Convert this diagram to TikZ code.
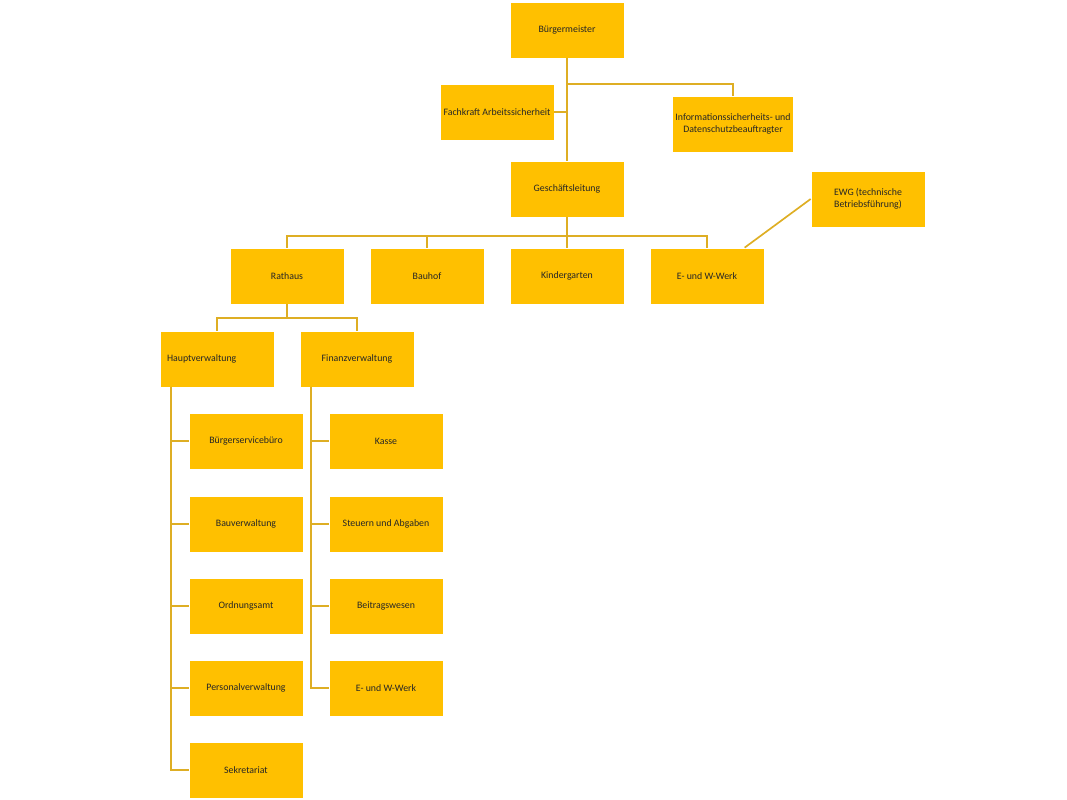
\documentclass[tikz,border=0pt]{standalone}
\usepackage{fontspec}
\setmainfont{Carlito}
\usepackage{xcolor}
\usetikzlibrary{positioning}

\definecolor{boxgold}{RGB}{255,192,0}
\definecolor{linegold}{RGB}{222,174,36}

\begin{document}
\begin{tikzpicture}[
  x=0.025cm, y=-0.025cm,
  font=\fontsize{7}{8.4}\selectfont,
  unit/.style={
    draw=white,
    fill=boxgold,
    line width=0.5pt,
    minimum width=2.85cm,
    minimum height=1.4cm,
    align=center,
    inner sep=2pt,
    text=black!85
  },
  link/.style={
    draw=linegold,
    line width=1.2pt
  }
]

\useasboundingbox (0,0) rectangle (1067,800);

% -------------------------------------------------------------------
% Leitung
% -------------------------------------------------------------------
\node[unit] (bgm) at (567,30) {Bürgermeister};
\node[unit] (fas) at (497,112) {Fachkraft Arbeitssicherheit};
\node[unit] (isb) at (733,124) {Informationssicherheits- und\\Datenschutzbeauftragter};
\node[unit] (gl) at (567,189) {Geschäftsleitung};
\node[unit] (ewg) at (868,199) {EWG (technische\\Betriebsführung)};

% -------------------------------------------------------------------
% Bereiche
% -------------------------------------------------------------------
\node[unit] (rat) at (287,276) {Rathaus};
\node[unit] (bau) at (427,276) {Bauhof};
\node[unit] (kig) at (567,276) {Kindergarten};
\node[unit] (ewerk) at (707,276) {E- und W-Werk};

% -------------------------------------------------------------------
% Rathaus
% -------------------------------------------------------------------
\node[unit, align=left, inner xsep=5pt, text width=2.85cm-10pt] (hv) at (217,359) {Hauptverwaltung};
\node[unit] (fv) at (357,359) {Finanzverwaltung};

\node[unit] (bsb) at (246,441) {Bürgerservicebüro};
\node[unit] (bvw) at (246,524) {Bauverwaltung};
\node[unit] (oa) at (246,606) {Ordnungsamt};
\node[unit] (pv) at (246,688) {Personalverwaltung};
\node[unit] (sek) at (246,770) {Sekretariat};

\node[unit] (kas) at (386,441) {Kasse};
\node[unit] (sua) at (386,524) {Steuern und Abgaben};
\node[unit] (btw) at (386,606) {Beitragswesen};
\node[unit] (ewv) at (386,688) {E- und W-Werk};

% Verbindungen
\coordinate (j1) at (567,84);
\coordinate (gbus) at (567,236);
\coordinate (rbus) at (287,318);
\coordinate (hvl) at (171,387);
\coordinate (fvl) at (311,387);

\draw[link] (bgm) -- (gl);
\draw[link] (j1) -| (isb.north);
\draw[link] (fas.east) -- (fas.east -| bgm.south);

\draw[link] (gl.south) -- (gbus);
\foreach \n in {rat,bau,kig,ewerk}
  \draw[link] (\n.north) |- (gbus);
\draw[link] (ewg.west) -- (ewerk.37);

\draw[link] (rat.south) -- (rbus);
\foreach \n in {hv,fv}
  \draw[link] (\n.north) |- (rbus);

\foreach \n in {bsb,bvw,oa,pv,sek}
  \draw[link] (hvl) |- (\n.west);
\foreach \n in {kas,sua,btw,ewv}
  \draw[link] (fvl) |- (\n.west);

\end{tikzpicture}
\end{document}
